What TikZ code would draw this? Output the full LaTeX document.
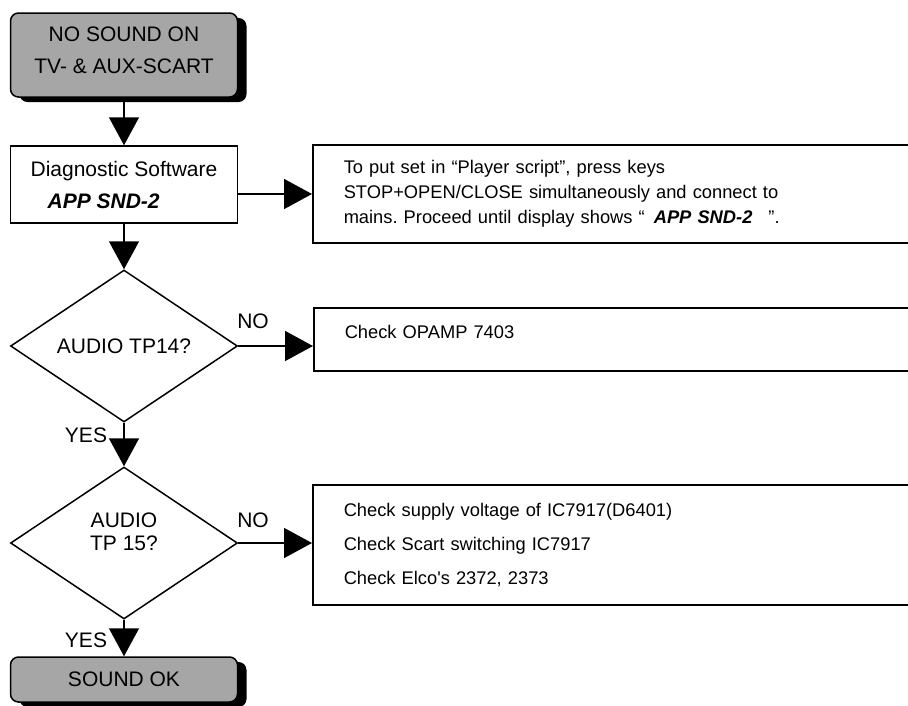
\documentclass[tikz,border=0pt]{standalone}
\usepackage{fontspec}
\setmainfont{Liberation Sans}
\usetikzlibrary{arrows.meta,positioning,shapes.geometric,shadows}
\definecolor{boxgray}{RGB}{166,166,166}
\frenchspacing

\begin{document}
\begin{tikzpicture}[x=1pt,y=-1pt,
    every node/.style={font=\fontsize{21}{24}\selectfont},
    flow/.style={line width=1.5pt,-{Triangle[length=28pt,width=30pt]}},
    termbox/.style={draw,fill=boxgray,rounded corners=8pt,line width=1.5pt,
                    minimum width=227pt,inner sep=0pt,align=center,
                    font=\fontsize{21}{32}\selectfont,
                    drop shadow={fill=black,opacity=1,shadow xshift=9pt,shadow yshift=-5pt}},
    stepbox/.style={draw,line width=1.5pt,minimum width=227pt,minimum height=77pt,
                    inner sep=0pt,align=left,font=\fontsize{21}{32}\selectfont},
    decision/.style={draw,diamond,line width=1.5pt,minimum width=227pt,
                     minimum height=152pt,inner sep=0pt,align=center,
                     font=\fontsize{21}{23}\selectfont},
    infobox/.style={draw,line width=1.5pt,anchor=west,text width=560pt,
                    inner xsep=31pt,inner ysep=0pt,align=left,
                    font=\fontsize{18.3}{25}\selectfont},
    answer/.style={inner sep=0pt},
]

% ---- page ----------------------------------------------------------------
\useasboundingbox (0,0) rectangle (908,705);
\clip (0,0) rectangle (908,705);

% ---- x positions ---------------------------------------------------------
\def\xCol{124}
\def\xInfo{312}

% ---- Main column ---------------------------------------------------------
\node[termbox,minimum height=84pt,text depth=10pt] (start) at (\xCol,55)
    {NO SOUND ON\\TV- \& AUX-SCART};
\node[stepbox] (diag) at (\xCol,184.5)
    {Diagnostic Software\\\hspace*{17pt}\textbf{\textit{APP SND-2}}};
\node[decision] (tp14) at (\xCol,346) {AUDIO TP14?};
\node[decision,text depth=22pt] (tp15) at (\xCol,543) {AUDIO\\TP 15?};
\node[termbox,minimum height=45pt] (ok) at (\xCol,679.5) {SOUND OK};

% ---- Info boxes ----------------------------------------------------------
\node[infobox,minimum height=98pt] (player) at (\xInfo,194)
    {To put set in “Player script”, press keys\\
     STOP+OPEN/CLOSE simultaneously and connect to\\
     mains. Proceed until display shows “\hspace{9pt}\textbf{\textit{APP SND-2}}\hspace{16pt}”.};
\node[infobox,minimum height=63pt,text depth=15pt] (opamp) at (313,339.5) {Check OPAMP 7403};
\node[infobox,minimum height=120pt,font=\fontsize{18.3}{34}\selectfont] (scart) at (\xInfo,545)
    {Check supply voltage of IC7917(D6401)\\
     Check Scart switching IC7917\\
     Check Elco\textquotesingle s 2372, 2373};

% ---- Connectors ----------------------------------------------------------
\draw[flow] (start) -- (diag);
\draw[flow] (diag) -- (tp14);
\draw[flow] (tp14) -- (tp15);
\draw[flow] (tp15) -- (ok);
\draw[flow] (diag.east |- player.west) -- (player.west);
\draw[flow] (tp14.east) -- (tp14.east -| opamp.west);
\draw[flow] (tp15.east) -- (tp15.east -| scart.west);

% ---- Answers -------------------------------------------------------------
\node[answer] (no14)  at (253,321) {NO};
\node[answer] (yes14) at (86,435)  {YES};
\node[answer] (no15)  at (253,520) {NO};
\node[answer] (yes15) at (86,640)  {YES};

\end{tikzpicture}
\end{document}
